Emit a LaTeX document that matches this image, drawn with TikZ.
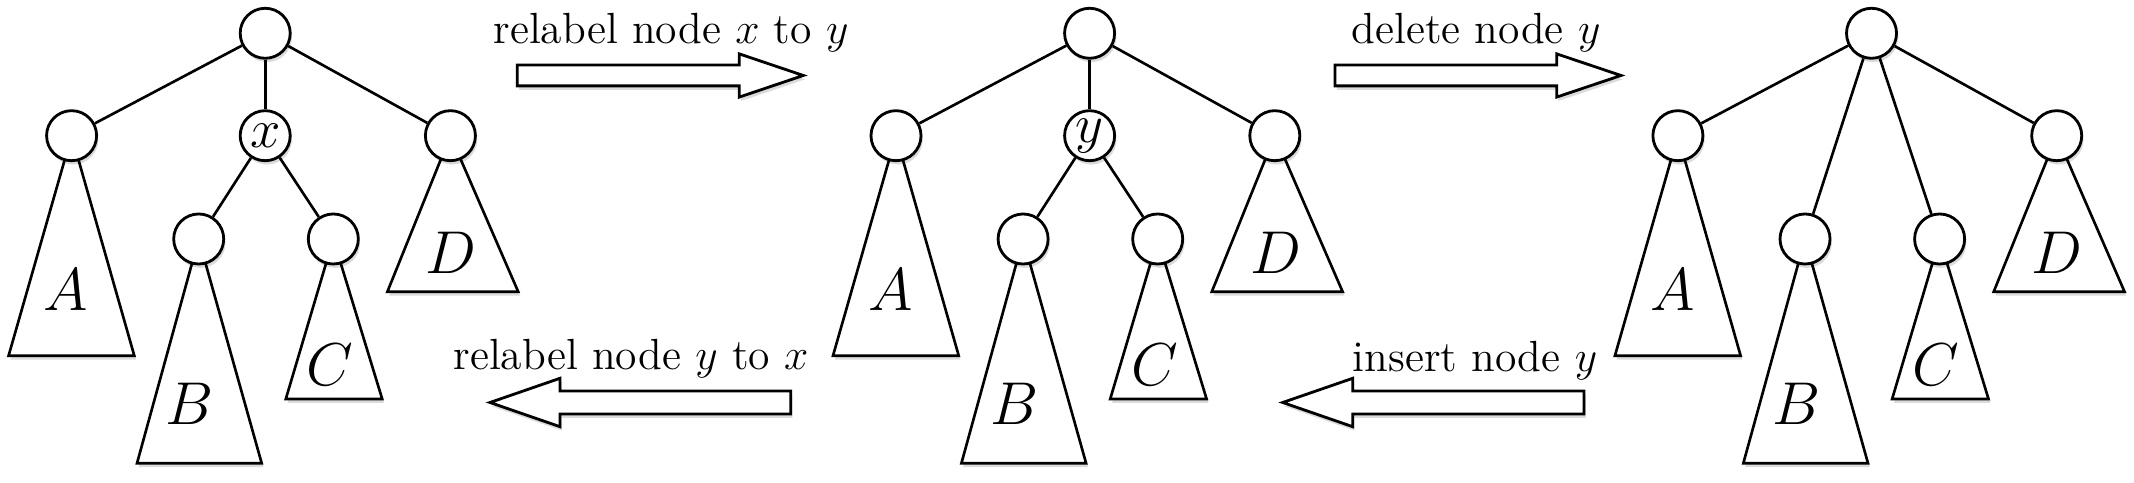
\RequirePackage{fix-cm}
\documentclass[tikz,border=0pt]{standalone}
\usetikzlibrary{shadows}
\pgfdeclarelayer{bg}
\pgfsetlayers{bg,main}
\tikzset{
  soft/.style={drop shadow={opacity=0.14, shadow xshift=0.5pt, shadow yshift=-1.1pt, fill=black}},
  vert/.style={circle, draw, fill=white, line width=0.8pt, minimum size=0.5cm, inner sep=0pt,
    font=\fontsize{15.5}{17}\selectfont, soft},
  tri/.style={draw, fill=white, line width=0.75pt, line join=miter, soft},
  edge/.style={draw, line width=0.75pt},
  blockarrow/.style={draw, fill=white, line width=0.8pt, line join=miter, soft},
  sublbl/.style={inner sep=0pt, font=\fontsize{17.2}{19}\selectfont},
  oplbl/.style={inner sep=0pt, anchor=base, font=\fontsize{12.4}{14}\selectfont}
}
\begin{document}
\begin{tikzpicture}[x=0.01cm, y=-0.01cm]
\useasboundingbox (0,0) rectangle (2134,483);

% trees 1 and 2
\foreach \t/\dx/\lab in {1/0/x, 2/824.4/y}{
  \begin{scope}[shift={(\dx,0)}]
    \node[vert] (t\t r) at (265.2,33.3) {};
    \node[vert] (t\t a) at (71.6,135.7) {};
    \node[vert] (t\t m) at (265.2,135.7) {$\lab$};
    \node[vert] (t\t d) at (450.4,135.7) {};
    \node[vert] (t\t b) at (198.7,239) {};
    \node[vert] (t\t c) at (333.3,239) {};
    \begin{pgfonlayer}{bg}
      \draw[tri] (t\t a.center) -- (8.6,355.7) -- (134.3,355.7) -- cycle;
      \draw[tri] (t\t b.center) -- (137,463.3) -- (261.7,463.3) -- cycle;
      \draw[tri] (t\t c.center) -- (285.8,399) -- (382.2,399) -- cycle;
      \draw[tri] (t\t d.center) -- (387.4,291.7) -- (518.2,291.7) -- cycle;
      \draw[edge] (t\t r) -- (t\t a);
      \draw[edge] (t\t r) -- (t\t m);
      \draw[edge] (t\t r) -- (t\t d);
      \draw[edge] (t\t m) -- (t\t b);
      \draw[edge] (t\t m) -- (t\t c);
    \end{pgfonlayer}
    \node[sublbl] (t\t A) at (66,290) {$A$};
    \node[sublbl] (t\t B) at (190,404) {$B$};
    \node[sublbl] (t\t C) at (330,365) {$C$};
    \node[sublbl] (t\t D) at (451,253) {$D$};
  \end{scope}
}

% tree 3
\begin{scope}[shift={(1606.3,0)}]
  \node[vert] (t3r) at (265.2,33.3) {};
  \node[vert] (t3a) at (71.6,135.7) {};
  \node[vert] (t3d) at (450.4,135.7) {};
  \node[vert] (t3b) at (198.7,239) {};
  \node[vert] (t3c) at (333.3,239) {};
  \begin{pgfonlayer}{bg}
    \draw[tri] (t3a.center) -- (8.6,355.7) -- (134.3,355.7) -- cycle;
    \draw[tri] (t3b.center) -- (137,463.3) -- (261.7,463.3) -- cycle;
    \draw[tri] (t3c.center) -- (285.8,399) -- (382.2,399) -- cycle;
    \draw[tri] (t3d.center) -- (387.4,291.7) -- (518.2,291.7) -- cycle;
    \draw[edge] (t3r) -- (t3a);
    \draw[edge] (t3r) -- (t3b);
    \draw[edge] (t3r) -- (t3c);
    \draw[edge] (t3r) -- (t3d);
  \end{pgfonlayer}
  \node[sublbl] (t3A) at (66,290) {$A$};
  \node[sublbl] (t3B) at (190,404) {$B$};
  \node[sublbl] (t3C) at (330,365) {$C$};
  \node[sublbl] (t3D) at (451,253) {$D$};
\end{scope}

% block arrows
\draw[blockarrow] (517.3,65.1) -- (739.3,65.1) -- (739.3,53.9) -- (803.3,75.5)
  -- (739.3,97.1) -- (739.3,85.9) -- (517.3,85.9) -- cycle;
\draw[blockarrow] (1335,65.1) -- (1556.7,65.1) -- (1556.7,53.9) -- (1621,75.5)
  -- (1556.7,97.1) -- (1556.7,85.9) -- (1335,85.9) -- cycle;
\draw[blockarrow] (790.7,391) -- (560,391) -- (560,378.3) -- (490,402.5)
  -- (560,426.7) -- (560,414) -- (790.7,414) -- cycle;
\draw[blockarrow] (1584,391) -- (1352.7,391) -- (1352.7,378.3) -- (1282.7,402.5)
  -- (1352.7,426.7) -- (1352.7,414) -- (1584,414) -- cycle;

% operation labels
\node[oplbl] (op1) at (671,43.5) {relabel node $x$ to $y$};
\node[oplbl] (op2) at (1476,44) {delete node $y$};
\node[oplbl] (op3) at (631,370) {relabel node $y$ to $x$};
\node[oplbl] (op4) at (1475,371.5) {insert node $y$};
\end{tikzpicture}
\end{document}
